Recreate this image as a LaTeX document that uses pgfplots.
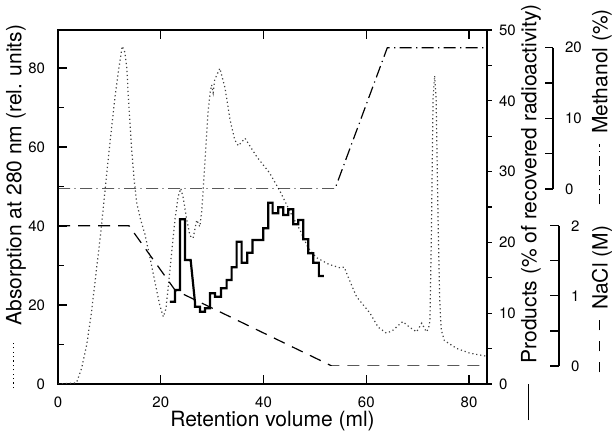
\documentclass[border=0pt]{standalone}
\usepackage{fontspec}
\setmainfont{TeX Gyre Heros}
\usepackage{pgfplots}
\pgfplotsset{compat=1.18}

% short line sample in front of an axis label
\newcommand{\samp}[2]{\raisebox{3.6pt}{\tikz\draw[#1] (0,0)--(#2,0);}}

\pgfplotsset{
  base/.style={scale only axis, xmin=0, xmax=83.5,
    axis line style={line width=0.8pt,-},
    tick style={line width=0.6pt,black},
    ticklabel style={font=\fontsize{7.5}{8}\selectfont},
    /pgf/number format/assume math mode=true,
    label style={font=\fontsize{10.5}{12}\selectfont}},
}

\begin{document}
\begin{tikzpicture}
% absorption (left) and x axis
\begin{axis}[base, width=214.5pt, height=177pt, ymin=0, ymax=89.6,
  xtick={0,20,...,80}, ytick={0,20,...,80}, minor ytick={10,30,...,70},
  tick align=inside, xtick pos=both, ytick pos=left, xticklabel pos=lower,
  major tick length=4.5pt, minor tick length=3pt,
  yticklabel style={xshift=-3pt}, xticklabel style={yshift=-3pt},
  xlabel={Retention volume (ml)},
  xlabel style={at={(axis description cs:0.5,-0.106)},anchor=center},
  ylabel={\samp{line width=0.6pt,dash pattern=on 0.6pt off 1.6pt}{24pt}\hspace{7pt}Absorption at 280 nm (rel. units)},
  ylabel style={at={(axis description cs:-0.098,0.501)},anchor=center}]
\addplot[black!75, line width=0.6pt, dash pattern=on 0.6pt off 1.4pt] coordinates {
(0,0)(3.6,0.3)(4.6,4)(5.6,10)(6.5,18)(7.4,28)(8.3,38)(9.0,47)(9.7,56)(10.4,64.5)
(11.1,72.7)(11.8,79.5)(12.5,85.5)(13.0,84)(13.4,80)(13.8,70)(14.3,60)(14.8,52)
(15.3,46)(16.0,42)(16.9,38)(17.9,32)(18.9,25.6)(19.8,20)(20.5,17)(21.0,19)(21.5,25)
(22.1,33)(22.8,42)(23.4,47.5)(23.9,49.5)(24.4,47)(25.0,42)(25.7,37.5)(26.3,36.9)
(27.0,41.5)(27.6,39.8)(28.0,44)(28.6,56)(29.2,68.6)(29.6,73.7)(29.9,75.7)(30.2,73.7)
(30.5,77)(31.5,79.9)(32.5,75)(33.5,66.8)(34.4,61.8)(35.1,60.3)(36.4,62.2)(38.7,57.5)
(41.2,53.4)(43.2,48.8)(45.8,42)(47.1,39)(48.7,34.4)(50.3,32)(52.7,30.3)(54.9,29.4)
(55.7,29.6)(56.5,27)(58.1,22.1)(60.7,18)(62.3,14.4)(63.9,12.9)(65.0,13.4)(67.1,15.8)
(68.5,14.3)(69.8,13.2)(70.8,15.4)(71.7,13.2)(72.1,14)(72.4,16)(72.7,40)(73.0,72)
(73.3,78)(73.6,72)(74.0,40)(74.3,21)(74.6,13.7)(75.2,11)(77.6,9)(80.2,7.8)(83.1,7.1)(83.5,7)};
\end{axis}

% products (right, % of radioactivity)
\begin{axis}[base, width=214.5pt, height=177pt, ymin=0, ymax=50,
  axis x line=none, axis y line*=right, ytick pos=right, yticklabel pos=right,
  ytick={0,10,...,50}, minor ytick={5,15,...,45},
  tick align=outside, major tick length=2.5pt, minor tick length=2.5pt,
  ylabel={\samp{line width=0.8pt}{18pt}\hspace{10pt}Products (\% of recovered radioactivity)},
  ylabel style={at={(axis description cs:1.1026,0.4845)},anchor=center}]
\addplot[black, line width=1.1pt, line join=miter] coordinates {
(21.79,11.62)(22.76,11.62)(22.76,13.28)(23.74,13.28)(23.74,23.26)(24.71,23.26)
(24.71,17.51)(25.82,17.51)(26.65,11.62)(26.65,10.92)(27.63,10.92)(27.63,10.21)
(28.6,10.21)(28.6,10.69)(29.57,10.69)(29.57,12.81)(30.54,12.81)(30.54,12.33)
(31.71,12.33)(31.71,13.52)(32.82,13.52)(32.82,14.69)(33.79,14.69)(33.79,16.48)
(34.77,16.48)(34.77,20.1)(35.74,20.1)(35.74,17.13)(36.83,17.13)(36.83,18.55)
(37.84,18.55)(37.84,20.34)(39.94,20.34)(39.94,21.99)(40.91,21.99)(40.91,25.61)
(41.77,25.61)(41.77,24.11)(42.86,24.11)(42.86,24.96)(43.83,24.96)(43.83,23.87)
(44.81,23.87)(44.81,24.68)(45.78,24.68)(45.78,22.56)(46.75,22.56)(46.75,23.16)
(47.72,23.16)(47.72,20.44)(48.7,20.44)(48.7,18.46)(49.67,18.46)(49.67,17.13)
(50.78,17.13)(50.78,15.25)(51.75,15.25)};
\end{axis}

% NaCl (M)
\begin{axis}[base, at={(0,9pt)}, anchor=south west, width=250.5pt, height=70.15pt,
  xmax=97.51, ymin=0, ymax=2,
  axis x line=none, axis y line*=right, ytick pos=right, yticklabel pos=right,
  ytick={0,1,2}, minor ytick={0.5,1.5},
  tick align=inside, major tick length=4.5pt, minor tick length=4.5pt,
  yticklabel style={xshift=2.5pt},
  ylabel={\samp{line width=0.6pt,dash pattern=on 5pt off 5.5pt}{26pt}\hspace{5pt}NaCl (M)},
  ylabel style={at={(axis description cs:1.0858,0.474)},anchor=center}]
\addplot[black, line width=0.6pt, dash pattern=on 6pt off 4pt] coordinates {
(0,2)(13.8,2)(22.8,1.08)(53.3,0)(83.5,0)};
\end{axis}

% Methanol (%)
\begin{axis}[base, at={(0,97.5pt)}, anchor=south west, width=247.5pt, height=70.65pt,
  xmax=96.35, ymin=0, ymax=20,
  axis x line=none, axis y line*=right, ytick pos=right, yticklabel pos=right,
  ytick={0,10,20}, minor ytick={5,15},
  tick align=inside, major tick length=4.2pt, minor tick length=4.2pt,
  yticklabel style={xshift=2.5pt},
  ylabel={\samp{line width=0.6pt,dash pattern=on 5pt off 2pt on 0.6pt off 2pt}{30pt}\hspace{5pt}Methanol (\%)},
  ylabel style={at={(axis description cs:1.099,0.58)},anchor=center}]
\addplot[black, line width=0.6pt, dash pattern=on 6pt off 2.2pt on 0.6pt off 2.2pt] coordinates {
(0,0)(53.9,0)(64.1,20)(83.5,20)};
\end{axis}

\pgfresetboundingbox
\path[use as bounding box] (-29pt,-24.5pt) rectangle (279pt,192pt);
\end{tikzpicture}
\end{document}
